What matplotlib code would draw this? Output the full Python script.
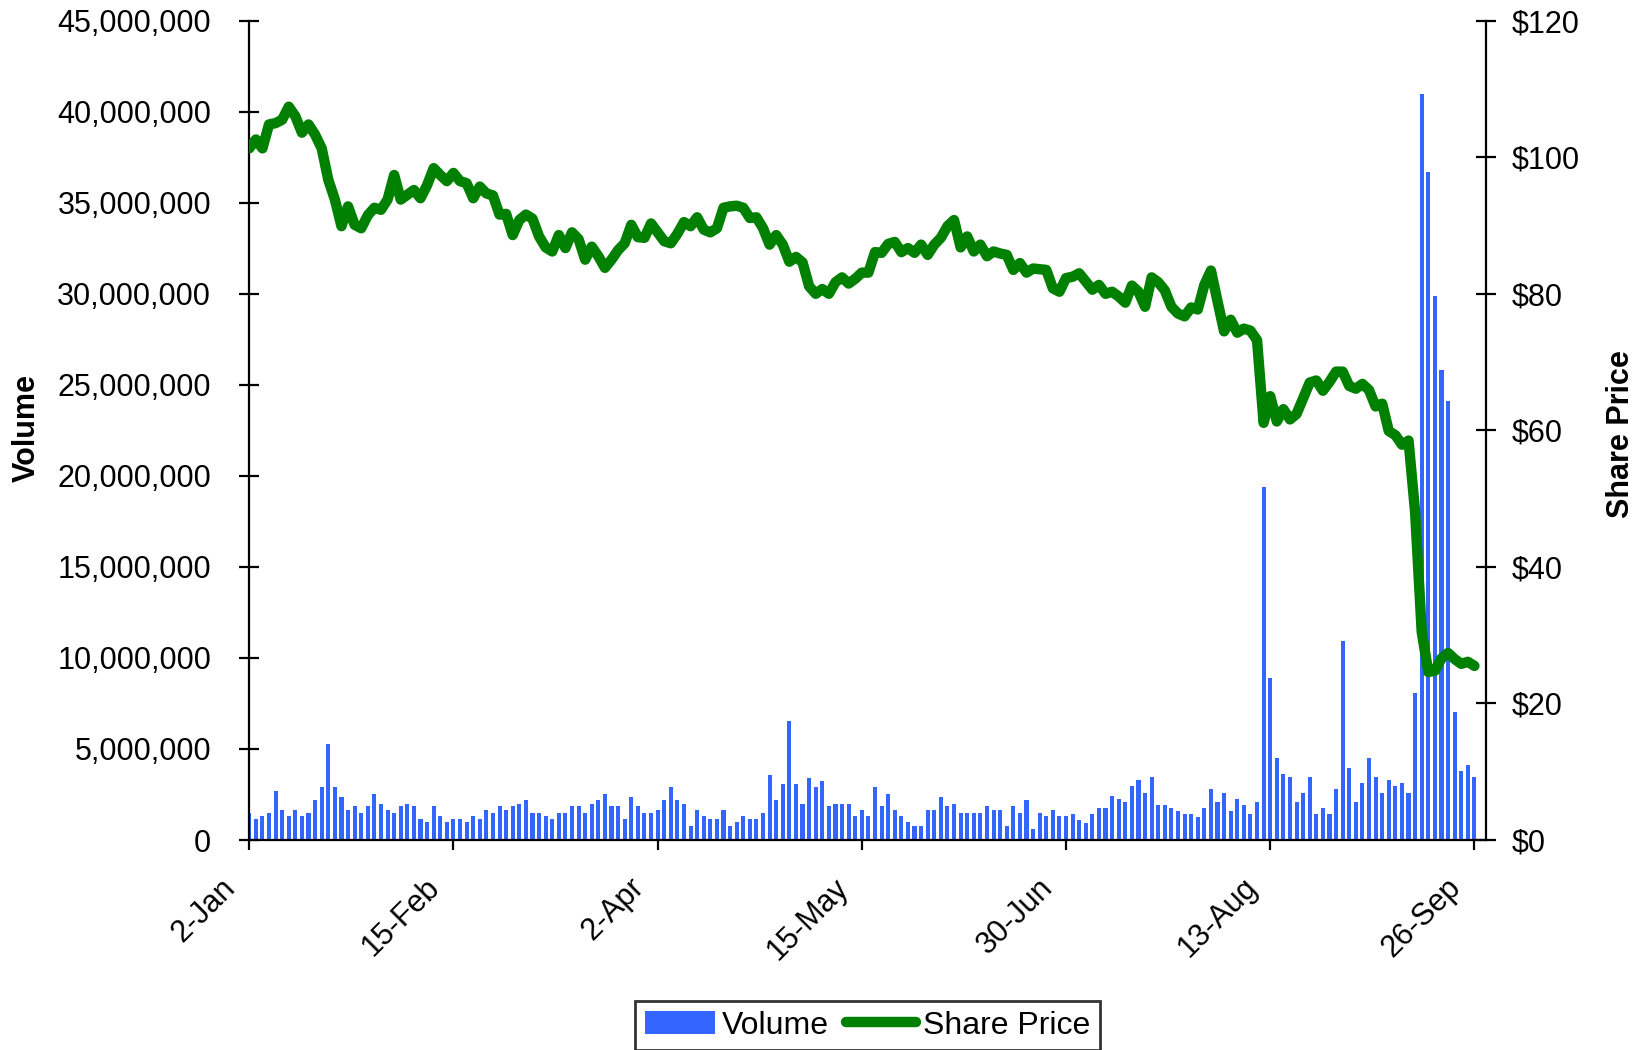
import matplotlib
matplotlib.use("Agg")
from matplotlib import pyplot as plt
from matplotlib.ticker import FuncFormatter
from matplotlib.transforms import ScaledTranslation
import numpy as np

plt.rcParams['font.family'] = ['Liberation Sans', 'DejaVu Sans']

# daily volume, millions of shares (one value per trading day)
volume_m = [
    1.50, 1.17, 1.34, 1.50, 2.68, 1.67, 1.34, 1.67, 1.34, 1.50, 2.17, 2.90, 5.30, 2.90, 2.34, 1.67,
    1.84, 1.50, 1.84, 2.50, 2.00, 1.67, 1.50, 1.84, 2.00, 1.84, 1.17, 1.00, 1.84, 1.34, 1.00, 1.17,
    1.17, 1.00, 1.34, 1.17, 1.67, 1.50, 1.84, 1.67, 1.84, 2.00, 2.17, 1.50, 1.50, 1.34, 1.17, 1.50,
    1.50, 1.84, 1.84, 1.50, 2.00, 2.17, 2.50, 1.84, 1.84, 1.17, 2.34, 1.84, 1.50, 1.50, 1.67, 2.17,
    2.90, 2.17, 2.00, 0.78, 1.67, 1.34, 1.17, 1.17, 1.67, 0.78, 1.00, 1.34, 1.17, 1.17, 1.50, 3.57,
    2.17, 3.07, 6.52, 3.07, 2.00, 3.40, 2.90, 3.23, 1.84, 2.00, 2.00, 2.00, 1.34, 1.67, 1.34, 2.90,
    1.84, 2.50, 1.67, 1.34, 1.00, 0.78, 0.78, 1.67, 1.67, 2.34, 1.84, 2.00, 1.50, 1.50, 1.50, 1.50,
    1.84, 1.67, 1.67, 0.78, 1.84, 1.50, 2.17, 0.61, 1.50, 1.34, 1.67, 1.31, 1.31, 1.45, 1.12, 0.95,
    1.45, 1.78, 1.78, 2.44, 2.27, 2.10, 2.99, 3.31, 2.60, 3.48, 1.94, 1.94, 1.78, 1.61, 1.45, 1.45,
    1.28, 1.78, 2.82, 2.10, 2.60, 1.61, 2.27, 1.94, 1.45, 2.10, 19.40, 8.92, 4.52, 3.64, 3.48, 2.10,
    2.60, 3.48, 1.45, 1.78, 1.45, 2.82, 10.95, 3.97, 2.10, 3.15, 4.52, 3.48, 2.60, 3.31, 2.99, 3.15,
    2.60, 8.10, 41.00, 36.70, 29.90, 25.80, 24.10, 7.05, 3.81, 4.14, 3.48,
]

# closing share price, $
price = [
    101.3, 102.6, 101.3, 104.8, 105.0, 105.5, 107.4, 106.0, 103.6, 104.8, 103.3, 101.3, 96.7, 93.8, 89.9, 92.8,
    90.1, 89.6, 91.5, 92.6, 92.3, 93.8, 97.4, 93.8, 94.5, 95.2, 94.0, 95.9, 98.4, 97.4, 96.5, 97.7,
    96.5, 96.2, 94.0, 95.7, 94.7, 94.4, 91.6, 91.7, 88.6, 90.8, 91.6, 91.0, 88.4, 86.8, 86.2, 88.6,
    86.7, 89.0, 88.0, 85.0, 86.9, 85.5, 83.8, 85.0, 86.4, 87.4, 90.1, 88.3, 88.2, 90.3, 89.0, 87.7,
    87.4, 88.8, 90.5, 89.9, 91.2, 89.4, 89.0, 89.6, 92.6, 92.8, 92.9, 92.6, 91.1, 91.2, 89.6, 87.2,
    88.6, 87.2, 84.7, 85.4, 84.6, 81.1, 80.0, 80.7, 80.0, 81.7, 82.4, 81.5, 82.2, 83.1, 83.1, 86.1,
    86.0, 87.3, 87.6, 86.1, 86.7, 86.0, 87.2, 85.7, 87.2, 88.2, 89.9, 90.8, 86.8, 88.4, 86.2, 87.2,
    85.5, 86.2, 85.9, 85.7, 83.5, 84.5, 83.1, 83.7, 83.6, 83.5, 80.8, 80.3, 82.3, 82.5, 83.0, 81.8,
    80.6, 81.3, 80.0, 80.3, 79.6, 78.7, 81.2, 80.3, 78.1, 82.4, 81.7, 80.5, 78.1, 77.1, 76.7, 78.0,
    77.7, 81.3, 83.4, 78.9, 74.5, 76.2, 74.3, 74.9, 74.6, 73.2, 61.1, 65.0, 61.3, 63.1, 61.6, 62.4,
    64.7, 67.0, 67.3, 65.8, 67.1, 68.6, 68.6, 66.5, 66.1, 66.8, 65.9, 63.5, 63.9, 59.9, 59.3, 57.9,
    58.5, 48.0, 30.5, 24.6, 24.8, 26.6, 27.4, 26.5, 25.8, 26.1, 25.5,
]

# category labels shown every 31 trading days
tick_labels = ["2-Jan", "15-Feb", "2-Apr", "15-May", "30-Jun", "13-Aug", "26-Sep"]

volume = np.array(volume_m) * 1e6
xv = np.arange(len(volume))
xp = np.arange(len(price))
tick_pos = np.arange(len(tick_labels)) * 31

fig = plt.figure(figsize=(16.43, 10.5), dpi=100)
ax = fig.add_axes([0.1517, 0.2, 0.7527, 0.7803])
ax2 = ax.twinx()

ax.bar(xv, volume, width=0.62, color="#3366FF", label="Volume")
ax2.plot(xp, price, color="#008000", lw=7.5, solid_capstyle="round",
         solid_joinstyle="round", label="Share Price")

ax.set_xlim(0, 187.75)
ax.set_ylim(0, 45e6)
ax2.set_ylim(0, 120)

ax.set_yticks(np.arange(0, 45e6 + 1, 5e6))
ax.yaxis.set_major_formatter(FuncFormatter(lambda v, p: "{:,.0f}".format(v)))
ax2.set_yticks(np.arange(0, 121, 20))
ax2.yaxis.set_major_formatter(FuncFormatter(lambda v, p: "${:.0f}".format(v)))

# slanted date labels drawn as text so they can sit down-left of the ticks
ax.set_xticks(tick_pos)
ax.set_xticklabels([])
lab_tr = ax.get_xaxis_transform() + ScaledTranslation(-0.18, -0.43, fig.dpi_scale_trans)
for xpos, lab in zip(tick_pos, tick_labels):
    ax.text(xpos, 0, lab, transform=lab_tr, rotation=45, ha="right", va="center",
            rotation_mode="anchor", fontsize=22, clip_on=False)

for s in ["top", "right"]:
    ax.spines[s].set_visible(False)
for s in ["top", "left", "bottom"]:
    ax2.spines[s].set_visible(False)
for s in ["left", "bottom"]:
    ax.spines[s].set_linewidth(1.6)
ax2.spines["right"].set_linewidth(1.6)

ax.tick_params(axis="y", direction="inout", length=15, width=1.6, pad=20, labelsize=22)
ax.tick_params(axis="x", direction="out", length=7, width=1.6)
ax2.tick_params(axis="y", direction="inout", length=15, width=1.6, pad=11, labelsize=22)

ax.set_ylabel("Volume", fontsize=22, fontweight="bold", va="center")
ax.yaxis.set_label_coords(-0.180, 0.503)
ax2.set_ylabel("Share Price", fontsize=22, fontweight="bold", va="center")
ax2.yaxis.set_label_coords(1.109, 0.496)

h1, l1 = ax.get_legend_handles_labels()
h2, l2 = ax2.get_legend_handles_labels()
leg = fig.legend(h1 + h2, l1 + l2, loc="center", bbox_to_anchor=(0.528, 0.0233),
                 ncol=2, fontsize=23, frameon=True, fancybox=False, shadow=False,
                 handlelength=2.2, handletextpad=0.2, columnspacing=0.55,
                 borderpad=0.3, borderaxespad=0)
leg.get_frame().set_edgecolor("black")
leg.get_frame().set_linewidth(2)

fig.savefig("out.png", dpi=100)
